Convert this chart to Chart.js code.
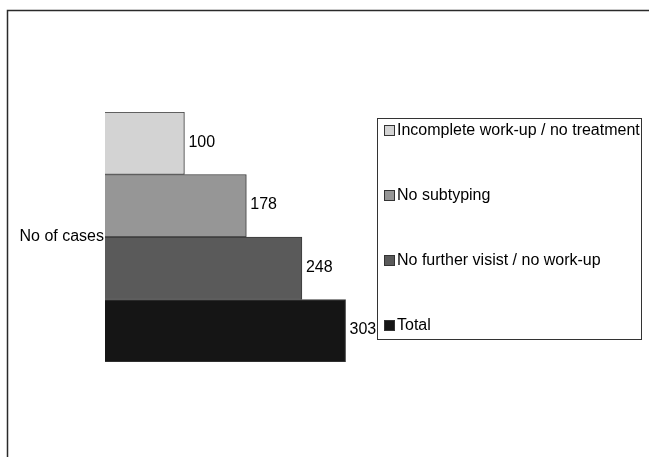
<!DOCTYPE html>
<html>
<head>
<meta charset="utf-8">
<script src="https://cdn.jsdelivr.net/npm/chart.js@4/dist/chart.umd.min.js"></script>
<style>
  html, body { margin: 0; padding: 0; background: #fff; }
  #wrap { width: 649px; height: 457px; position: relative; }
</style>
</head>
<body>
<div id="wrap"><canvas id="c" width="649" height="457"></canvas></div>
<script>
// Single category with four overlapping cohort counts
const categories = ['No of cases'];
const seriesLabels = [
  'Incomplete work-up / no treatment',
  'No subtyping',
  'No further visist / no work-up',
  'Total'
];
const seriesValues = [100, 178, 248, 303];
const seriesColors = ['#d3d3d3', '#969696', '#5a5a5a', '#151515'];

const FONT = '"Liberation Sans", Arial, sans-serif';

// Outer frame (top and left edges)
const framePlugin = {
  id: 'frame',
  beforeDraw(chart) {
    const ctx = chart.ctx;
    ctx.save();
    ctx.strokeStyle = '#2a2a2a';
    ctx.lineWidth = 1.5;
    ctx.beginPath();
    ctx.moveTo(7.5, chart.height);
    ctx.lineTo(7.5, 10.5);
    ctx.lineTo(chart.width, 10.5);
    ctx.stroke();
    ctx.restore();
  }
};

// Value labels at the end of each bar
const valueLabels = {
  id: 'valueLabels',
  afterDatasetsDraw(chart) {
    const ctx = chart.ctx;
    ctx.save();
    ctx.font = '16px ' + FONT;
    ctx.fillStyle = '#000';
    ctx.textAlign = 'left';
    ctx.textBaseline = 'middle';
    chart.data.datasets.forEach((ds, i) => {
      const meta = chart.getDatasetMeta(i);
      meta.data.forEach((bar, j) => {
        ctx.fillText(String(ds.data[j]), bar.x + 4, bar.y - 1);
      });
    });
    ctx.restore();
  }
};

// Boxed legend on the right
const boxLegend = {
  id: 'boxLegend',
  afterDraw(chart) {
    const ctx = chart.ctx;
    const box = { x: 377.5, y: 118.5, w: 264, h: 221 };
    const rows = [131, 196, 261, 326];
    ctx.save();
    ctx.strokeStyle = '#333';
    ctx.lineWidth = 1;
    ctx.strokeRect(box.x, box.y, box.w, box.h);
    ctx.font = '16px ' + FONT;
    ctx.textAlign = 'left';
    ctx.textBaseline = 'middle';
    chart.data.datasets.forEach((ds, i) => {
      const cy = rows[i];
      ctx.fillStyle = ds.backgroundColor;
      ctx.fillRect(384.5, cy - 5.5, 10, 10);
      ctx.strokeStyle = '#333';
      ctx.strokeRect(384.5, cy - 5.5, 10, 10);
      ctx.fillStyle = '#000';
      ctx.fillText(ds.label, 397, cy);
    });
    ctx.restore();
  }
};

new Chart(document.getElementById('c'), {
  type: 'bar',
  data: {
    labels: categories,
    datasets: seriesLabels.map((label, i) => ({
      label,
      data: [seriesValues[i]],
      backgroundColor: seriesColors[i],
      borderColor: '#3a3a3a',
      borderWidth: 1,
      borderSkipped: 'start',
      categoryPercentage: 1,
      barPercentage: 1
    }))
  },
  options: {
    indexAxis: 'y',
    responsive: false,
    animation: false,
    devicePixelRatio: 1,
    layout: { padding: { left: 0, top: 112, right: 228, bottom: 95 } },
    plugins: {
      legend: { display: false },
      tooltip: { enabled: false }
    },
    scales: {
      x: { display: false, min: 0, max: 398 },
      y: {
        grid: { display: false, drawTicks: false },
        border: { display: false },
        ticks: { color: '#000', font: { size: 16, family: FONT }, padding: 1 },
        afterFit(scale) { scale.width = 105; }
      }
    }
  },
  plugins: [framePlugin, valueLabels, boxLegend]
});
</script>
</body>
</html>
